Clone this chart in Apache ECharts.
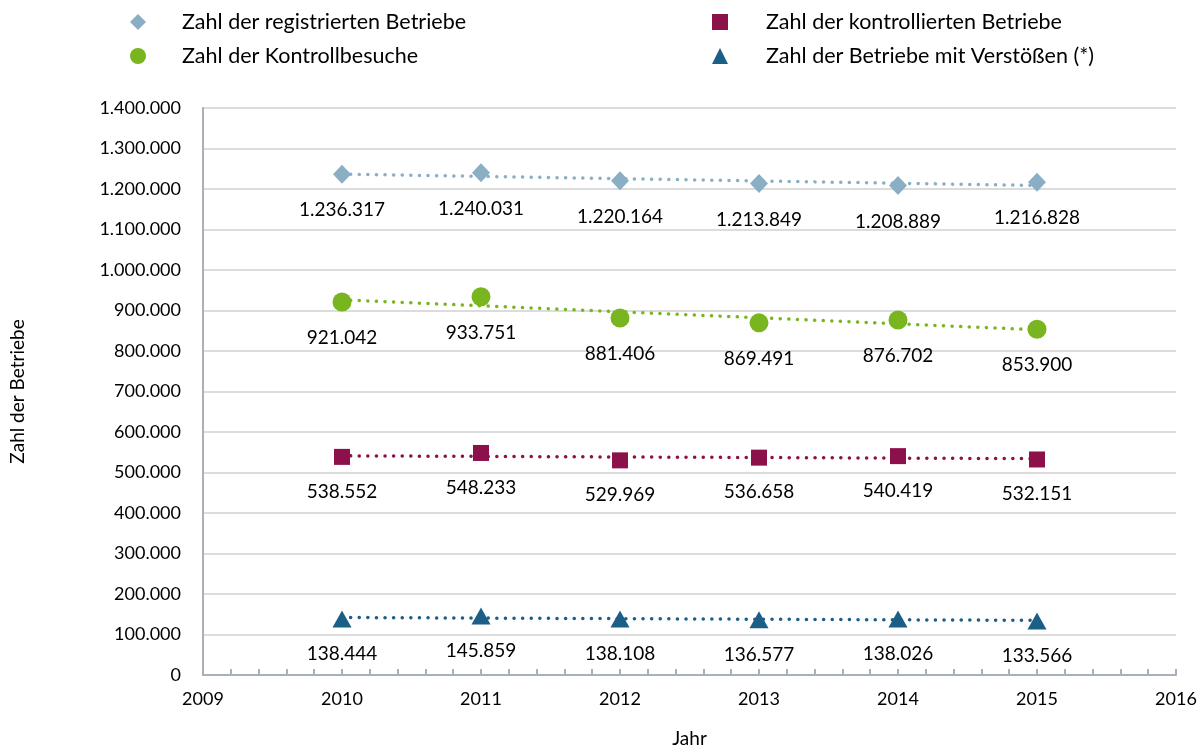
<!DOCTYPE html>
<html>
<head>
<meta charset="utf-8">
<script src="https://cdn.jsdelivr.net/npm/echarts@6/dist/echarts.min.js"></script>
<style>
  html, body { margin: 0; padding: 0; background: #fff; }
  #chart { width: 1203px; height: 749px; }
</style>
</head>
<body>
<div id="chart"></div>
<script>
// values
const years = [2010, 2011, 2012, 2013, 2014, 2015];
const registriert = [1236317, 1240031, 1220164, 1213849, 1208889, 1216828];
const besuche = [921042, 933751, 881406, 869491, 876702, 853900];
const kontrolliert = [538552, 548233, 529969, 536658, 540419, 532151];
const verstoesse = [138444, 145859, 138108, 136577, 138026, 133566];

const names = [
  'Zahl der registrierten Betriebe',
  'Zahl der Kontrollbesuche',
  'Zahl der kontrollierten Betriebe',
  'Zahl der Betriebe mit Verstößen (*)'
];
const colors = ['#8aaec3', '#78b51e', '#8c104a', '#1b5e86'];
const symbols = ['diamond', 'circle', 'rect', 'triangle'];
const sizes = [[18, 19], 19, 16, [19, 17]];
const seriesData = [registriert, besuche, kontrolliert, verstoesse];

const FONT = 'Lato';
const fmt = v => String(v).replace(/\B(?=(\d{3})+(?!\d))/g, '.');

// linear trend line (least squares) from first to last year
function trend(vals) {
  const n = years.length;
  const mx = years.reduce((a, b) => a + b, 0) / n;
  const my = vals.reduce((a, b) => a + b, 0) / n;
  let sxy = 0, sxx = 0;
  years.forEach((x, i) => { sxy += (x - mx) * (vals[i] - my); sxx += (x - mx) * (x - mx); });
  const k = sxy / sxx;
  const x0 = years[0], x1 = years[n - 1];
  return [[x0, my + k * (x0 - mx)], [x1, my + k * (x1 - mx)]];
}

const series = [];
seriesData.forEach((vals, i) => {
  series.push({
    name: names[i] + ' trend',
    type: 'line',
    data: trend(vals),
    showSymbol: false,
    silent: true,
    lineStyle: { color: colors[i], width: 3.5, type: [0.1, 8.5], cap: 'round' },
    z: 1
  });
  series.push({
    name: names[i],
    type: 'scatter',
    symbol: symbols[i],
    symbolSize: sizes[i],
    itemStyle: { color: colors[i], opacity: 1 },
    data: years.map((y, j) => [y, vals[j]]),
    label: {
      show: true,
      position: 'bottom',
      distance: 17,
      color: '#000',
      fontSize: 19,
      fontFamily: FONT,
      formatter: p => fmt(p.value[1])
    },
    z: 3
  });
});

const legendPos = [[125, 6], [125, 40], [707, 6], [707, 40]];
const legends = names.map((n, i) => ({
  data: [{ name: n, icon: symbols[i] }],
  left: legendPos[i][0],
  top: legendPos[i][1],
  itemWidth: 16,
  itemHeight: 16,
  itemGap: 10,
  textStyle: { fontSize: 21.5, fontFamily: FONT, color: '#000', padding: [0, 0, 0, i < 2 ? 31 : 33] }
}));

const chart = echarts.init(document.getElementById('chart'));
chart.setOption({
  animation: false,
  color: colors,
  legend: legends,
  grid: { left: 203, right: 27, top: 108, bottom: 74, outerBoundsMode: 'none' },
  xAxis: {
    type: 'value',
    min: 2009,
    max: 2016,
    interval: 1,
    name: 'Jahr',
    nameLocation: 'middle',
    nameGap: 54,
    nameTextStyle: { fontSize: 19, fontFamily: FONT, color: '#000' },
    axisLine: { lineStyle: { color: '#a9b0b8', width: 2 } },
    axisTick: { show: true, inside: true, length: 6, lineStyle: { color: '#a9b0b8', width: 2 } },
    minorTick: { show: true, splitNumber: 5, length: 6, lineStyle: { color: '#a9b0b8', width: 2 } },
    axisLabel: { fontSize: 18, fontFamily: FONT, color: '#000', margin: 15, formatter: v => String(v) },
    splitLine: { show: false }
  },
  yAxis: {
    type: 'value',
    min: 0,
    max: 1400000,
    interval: 100000,
    name: 'Zahl der Betriebe',
    nameLocation: 'middle',
    nameGap: 176,
    nameRotate: 90,
    nameTextStyle: { fontSize: 19, fontFamily: FONT, color: '#000' },
    axisLine: { show: true, lineStyle: { color: '#a9b0b8', width: 2 } },
    axisTick: { show: false },
    axisLabel: { fontSize: 18, fontFamily: FONT, color: '#000', margin: 22, formatter: v => fmt(v) },
    splitLine: { lineStyle: { color: '#dcdcdc', width: 2 } }
  },
  series: series
});
</script>
</body>
</html>
